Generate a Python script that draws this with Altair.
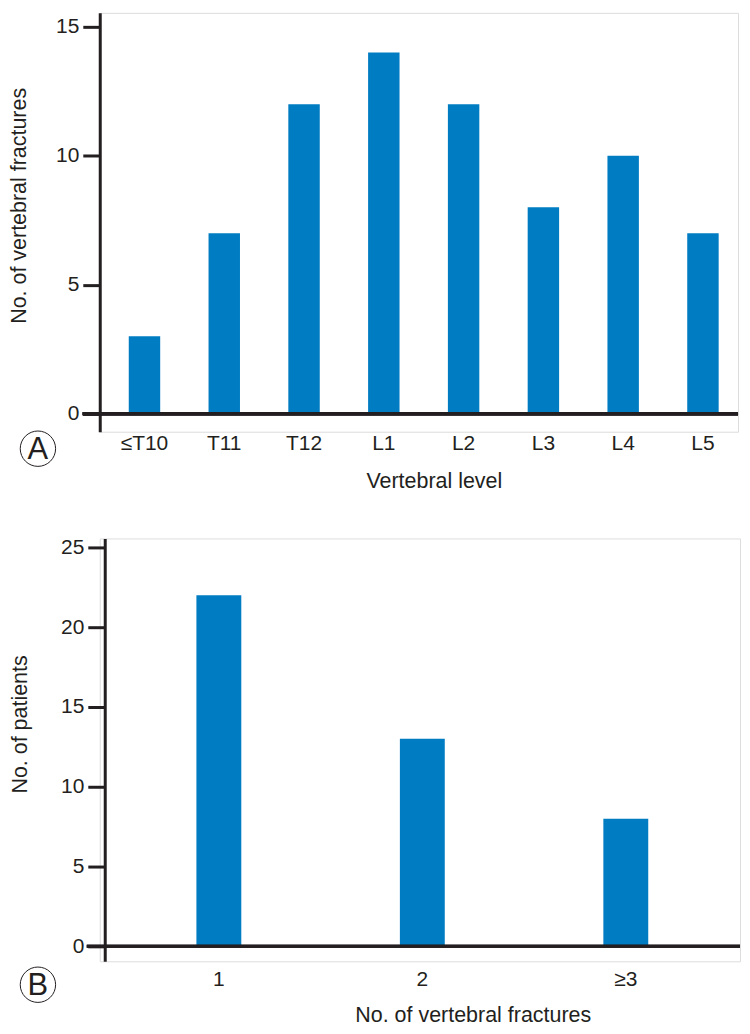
import altair as alt
import pandas as pd

# ---- data ----
levels = ["≤T10", "T11", "T12", "L1", "L2", "L3", "L4", "L5"]
fractures = [3, 7, 12, 14, 12, 8, 10, 7]

nfract = ["1", "2", "≥3"]
patients = [22, 13, 8]

ticksA = [0, 5, 10, 15]
ticksB = [0, 5, 10, 15, 20, 25]

# ---- style ----
FONT = "Liberation Sans, Arial, sans-serif"
INK = "#231f20"
BLUE = "#007cc3"

dfA = pd.DataFrame({"level": levels, "n": fractures})
dfB = pd.DataFrame({"k": nfract, "n": patients})
dfLA = pd.DataFrame({"lab": ["A"]})
dfLB = pd.DataFrame({"lab": ["B"]})

WA, HA = 640, 420
WB, HB = 642, 424

common_axis = dict(
    labelFont=FONT, labelFontSize=21, labelColor=INK,
    titleFont=FONT, titleFontSize=21.5, titleColor=INK, titleFontWeight="normal",
    grid=False,
)


def yaxis(title, vals, tx, ty, offset=0):
    return alt.Axis(
        title=title, values=vals, tickSize=17, tickWidth=3, tickColor=INK,
        domainWidth=3, domainColor=INK, labelPadding=4,
        titleAngle=270, titleX=tx, titleY=ty, titleAlign="center",
        titleBaseline="middle", offset=offset, **common_axis,
    )


def xaxis(title, tx, ty, pad):
    return alt.Axis(
        title=title, domain=False, ticks=False, labelAngle=0, labelPadding=pad,
        titleX=tx, titleY=ty, titleBaseline="alphabetic", titleAlign="center",
        **common_axis,
    )


# ---- panel A ----
xA = alt.X("level:N", sort=levels,
           scale=alt.Scale(paddingInner=0.606, paddingOuter=0.303, align=0.6),
           axis=xaxis("Vertebral level", 335, 56, 1))
yA = alt.Y("n:Q", scale=alt.Scale(domain=[-0.7, 15.54], nice=False, zero=False),
           axis=yaxis("No. of vertebral fractures", ticksA, -80, 193))

barsA = alt.Chart(dfA).mark_bar(color=BLUE).encode(x=xA, y=yA)
ruleA = alt.Chart(dfA).mark_rule(color=INK, strokeWidth=3).encode(
    y=alt.datum(0), x=alt.value(-17), x2=alt.value(WA))
circA = alt.Chart(dfLA).mark_point(shape="circle", size=1257, color=INK,
                                   strokeWidth=1, filled=False, opacity=1).encode(
    x=alt.value(-62), y=alt.value(437))
textA = alt.Chart(dfLA).mark_text(font=FONT, fontSize=31, color=INK,
                                  baseline="middle", align="center", dy=1).encode(
    x=alt.value(-62), y=alt.value(437), text="lab:N")

chartA = alt.layer(barsA, ruleA, circA, textA).properties(width=WA, height=HA)

# ---- panel B ----
xB = alt.X("k:N", sort=nfract,
           scale=alt.Scale(paddingInner=0.7794, paddingOuter=0.463, align=0.513),
           axis=xaxis("No. of vertebral fractures", 374, 60, 7))
yB = alt.Y("n:Q", scale=alt.Scale(domain=[-0.94, 25.56], nice=False, zero=False),
           axis=yaxis("No. of patients", ticksB, -84, 186, offset=-5))

barsB = alt.Chart(dfB).mark_bar(color=BLUE).encode(x=xB, y=yB)
ruleB = alt.Chart(dfB).mark_rule(color=INK, strokeWidth=3).encode(
    y=alt.datum(0), x=alt.value(-13), x2=alt.value(WB))
circB = alt.Chart(dfLB).mark_point(shape="circle", size=1257, color=INK,
                                   strokeWidth=1, filled=False, opacity=1).encode(
    x=alt.value(-62), y=alt.value(447.5))
textB = alt.Chart(dfLB).mark_text(font=FONT, fontSize=31, color=INK,
                                  baseline="middle", align="center", dy=1).encode(
    x=alt.value(-62), y=alt.value(447.5), text="lab:N")

chartB = alt.layer(barsB, ruleB, circB, textB).properties(width=WB, height=HB)

chart = alt.vconcat(chartA, chartB, spacing=43).properties(
    padding={"left": 0, "top": 2.5, "right": 0, "bottom": 0}
).configure_view(strokeWidth=0).configure(background="white")

chart.save("out.html", embed_options={"renderer": "svg", "actions": False})
